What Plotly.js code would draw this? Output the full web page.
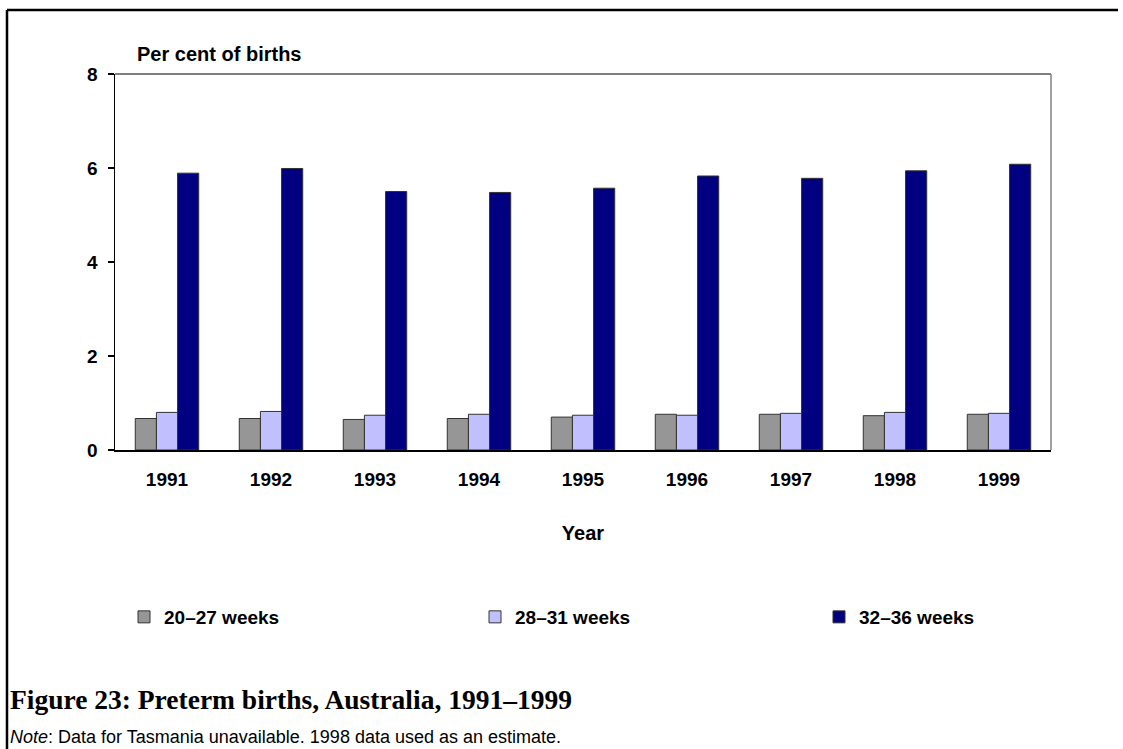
<!DOCTYPE html>
<html>
<head>
<meta charset="utf-8">
<script src="https://cdn.plot.ly/plotly-3.0.1.min.js"></script>
<style>
html,body{margin:0;padding:0;background:#fff;}
#chart{width:1123px;height:749px;}
</style>
</head>
<body>
<div id="chart"></div>
<script>
const years = ['1991','1992','1993','1994','1995','1996','1997','1998','1999'];
const weeks20_27 = [0.67,0.67,0.65,0.67,0.70,0.76,0.76,0.73,0.76];
const weeks28_31 = [0.80,0.82,0.74,0.76,0.74,0.74,0.78,0.80,0.78];
const weeks32_36 = [5.89,5.99,5.50,5.48,5.57,5.83,5.78,5.94,6.08];
const seriesNames = ['20\u201327 weeks','28\u201331 weeks','32\u201336 weeks'];
const seriesColors = ['#969696','#C0C0FF','#000080'];

const W = 1123, H = 749;
const M = {l:115, r:72, t:74, b:299};
const pw = W - M.l - M.r, ph = H - M.t - M.b;
const px = x => (x - M.l) / pw;          // pixel x -> paper x
const py = y => (H - M.b - y) / ph;      // pixel y -> paper y

const legendIds = ['legend','legend2','legend3'];
const legendLeft = [124, 475, 819];

const allVals = [weeks20_27, weeks28_31, weeks32_36];
const traces = allVals.map((v,i) => ({
  type:'bar', x: years, y: v, name: seriesNames[i], legend: legendIds[i],
  marker:{color: seriesColors[i], line:{color:'#333333', width:1}},
  hoverinfo:'x+y+name'
}));

const legendFont = {size:19, family:'Arial, Liberation Sans, sans-serif', weight:'bold', color:'#000'};

const layout = {
  width:W, height:H,
  margin:{l:M.l, r:M.r, t:M.t, b:M.b, pad:0},
  paper_bgcolor:'#fff', plot_bgcolor:'#fff',
  font:{family:'Arial, Liberation Sans, sans-serif', color:'#000'},
  barmode:'group', bargap:0.39, bargroupgap:0,
  showlegend:true,
  xaxis:{type:'category', showline:true, linecolor:'#000', linewidth:1.5, mirror:false,
         ticks:'', showgrid:false, zeroline:false, ticklabelstandoff:12,
         tickfont:{size:19, weight:'bold'},
         title:{text:'Year', standoff:36, font:{size:20, weight:'bold'}}},
  yaxis:{range:[0,8], dtick:2, tick0:0, showline:true, linecolor:'#000', linewidth:1.5,
         ticks:'outside', ticklen:6, tickcolor:'#000', tickwidth:1.5, showgrid:false, zeroline:false,
         ticklabelstandoff:6, tickfont:{size:19, weight:'bold'}, fixedrange:true},
  annotations:[
    {text:'Per cent of births', xref:'paper', yref:'paper', x:px(135), y:py(53.5),
     xanchor:'left', yanchor:'middle', showarrow:false, font:{size:20, weight:'bold'}},
    {text:'Figure 23: Preterm births, Australia, 1991\u20131999', xref:'paper', yref:'paper',
     x:px(8), y:py(699), xanchor:'left', yanchor:'middle', showarrow:false,
     font:{size:27.5, weight:'bold', family:'Liberation Serif, Times New Roman, serif'}},
    {text:'<i>Note</i>: Data for Tasmania unavailable. 1998 data used as an estimate.', xref:'paper', yref:'paper',
     x:px(8), y:py(736.5), xanchor:'left', yanchor:'middle', showarrow:false,
     font:{size:18, family:'Arial, Liberation Sans, sans-serif'}}
  ],
  shapes:[
    {type:'line', xref:'paper', yref:'paper', x0:px(7), x1:px(1118), y0:py(10), y1:py(10), line:{color:'#000', width:2.5}},
    {type:'line', xref:'paper', yref:'paper', x0:px(7), x1:px(7), y0:py(10), y1:py(760), line:{color:'#000', width:2.5}},
    {type:'line', xref:'paper', yref:'paper', x0:0, x1:1, y0:1, y1:1, line:{color:'#000', width:1}},
    {type:'line', xref:'paper', yref:'paper', x0:1, x1:1, y0:0, y1:1, line:{color:'#808080', width:1.5}}
  ]
};
legendIds.forEach((id,i) => {
  layout[id] = {orientation:'h', x:px(legendLeft[i]), xanchor:'left', y:py(617), yanchor:'middle',
                font:legendFont, bgcolor:'rgba(0,0,0,0)', borderwidth:0};
});

Plotly.newPlot('chart', traces, layout, {displayModeBar:false, staticPlot:true});
</script>
</body>
</html>
